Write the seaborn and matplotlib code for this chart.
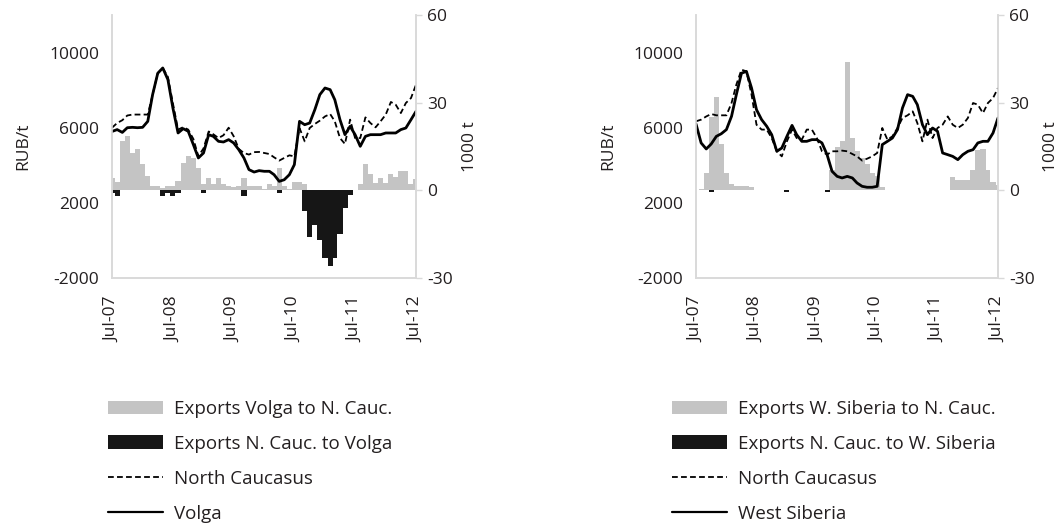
import pandas as pd
import seaborn as sns
import matplotlib.pyplot as plt
from matplotlib.patches import Patch
from matplotlib.lines import Line2D

months = pd.date_range("2007-07-01", "2012-07-01", freq="MS")
xtick_labels = ["Jul-07", "Jul-08", "Jul-09", "Jul-10", "Jul-11", "Jul-12"]

# left panel: Volga vs North Caucasus (RUB/t) and flows (1000 t)
volga = [5800, 5900, 5750, 6000, 6020, 6000, 6020, 6340, 7760, 8900, 9180, 8560, 7050,
         5720, 5950, 5810, 5100, 4390, 4655, 5630, 5540, 5275, 5240, 5365, 5190, 4830,
         4390, 3770, 3640, 3715, 3680, 3680, 3500, 3145, 3230, 3500, 4035, 6340, 6160,
         6250, 6960, 7760, 8114, 8025, 7490, 6430, 5630, 6075, 5630, 5010, 5540, 5630,
         5630, 5630, 5720, 5720, 5720, 5900, 5985, 6430, 6870]
ncauc_a = [6000, 6250, 6400, 6650, 6700, 6700, 6700, 6700, 7760, 8900, 9180, 8700, 7300,
           5900, 6030, 5900, 5400, 4480, 4900, 5800, 5650, 5450, 5600, 6000, 5550, 4870,
           4650, 4570, 4700, 4710, 4655, 4600, 4425, 4250, 4390, 4530, 4475, 5985, 5275,
           5985, 6200, 6375, 6600, 6730, 6340, 5450, 5135, 6430, 5450, 5450, 6550, 6250,
           6020, 6340, 6695, 7370, 7227, 6780, 7315, 7580, 8290]
exp_volga_nc = [4.3, 3, 16.9, 18.6, 12.9, 14, 8.9, 4.9, 1.5, 1.5, 0.9, 1.5, 1.5, 3.2, 9.5,
                11.8, 11.2, 7.8, 2, 4.3, 2, 4.1, 2, 1.5, 1.1, 1.5, 4.3, 1.5, 1.5, 1.5, 0.5,
                2, 1.5, 7.5, 1.5, 0.5, 3, 3, 2, 0, 0, 0, 0, 0, 0, 0, 0, 0, 0, 2, 9, 5.5,
                2.5, 4.3, 2.5, 5.5, 4.5, 6.5, 6.5, 2, 3.8]
exp_nc_volga = [-1, -2, 0, 0, 0, 0, 0, 0, 0, 0, -2, -0.8, -2, -0.8, 0, 0, 0, 0, -1, 0, 0,
                0, 0, 0, 0, 0, -2, 0, 0, 0, 0, 0, 0, -1, 0, 0, 0, 0, -7, -16, -12, -17, -23,
                -26, -23, -15, -6, -1.5, 0, 0, 0, 0, 0, 0, 0, 0, 0, 0, 0, 0, 0]

# right panel: West Siberia vs North Caucasus
wsib = [6200, 5190, 4870, 5135, 5540, 5680, 5900, 6610, 7760, 8900, 9000, 8115, 6960,
        6430, 6075, 5630, 4745, 4920, 5540, 6125, 5630, 5275, 5275, 5365, 5365, 5190,
        4565, 3680, 3410, 3325, 3410, 3325, 3060, 2880, 2830, 2830, 2880, 5100, 5275,
        5450, 5900, 7050, 7760, 7670, 7227, 6160, 5630, 5985, 5810, 4655, 4565, 4475,
        4300, 4565, 4745, 4830, 5190, 5275, 5275, 5720, 6520]
ncauc_b = [6340, 6430, 6600, 6730, 6660, 6660, 6660, 7315, 8290, 9090, 9000, 7760, 6160,
           5900, 5900, 5450, 4745, 4475, 5275, 5900, 5450, 5365, 5900, 5900, 5450, 4745,
           4565, 4745, 4745, 4780, 4745, 4600, 4475, 4250, 4350, 4475, 4655, 5985, 5365,
           5540, 5985, 6520, 6660, 6870, 6250, 5275, 6430, 5450, 5985, 6160, 6600, 6160,
           5985, 6160, 6520, 7315, 7227, 6780, 7315, 7580, 8114]
exp_ws_nc = [0, 0.5, 6, 25, 32, 16, 6, 2, 1.5, 1.5, 1.5, 1, 0, 0, 0, 0, 0, 0, 0, 0, 0, 0,
             0, 0, 0, 0, 0, 7, 15, 17, 44, 18, 13.5, 11, 9, 6, 5, 1, 0, 0, 0, 0, 0, 0, 0,
             0, 0, 0, 0, 0, 0, 4.6, 3.4, 3.4, 3.4, 6.8, 13.7, 14.3, 6.8, 2.9, 1.7]
exp_nc_ws = [0, 0, 0, -0.6, 0, 0, 0, 0, 0, 0, 0, 0, 0, 0, 0, 0, 0, 0, -0.6, 0, 0, 0, 0,
             0, 0, 0, -0.6, 0, 0, 0, 0, 0, 0, 0, 0, 0, 0, 0, 0, 0, 0, 0, 0, 0, 0, 0, 0,
             0, 0, 0, 0, 0, 0, 0, 0, 0, 0, 0, 0, 0, 0]

sns.set_theme(style="white", rc={"axes.edgecolor": "#d9d9d9", "text.color": "#231f20",
                                 "axes.labelcolor": "#231f20", "xtick.color": "#231f20",
                                 "ytick.color": "#231f20"})
plt.rcParams["font.family"] = ["Open Sans", "DejaVu Sans"]
plt.rcParams["axes.unicode_minus"] = False

GRAY = "#c4c4c4"
BLACK = "#161616"
DASH = (0, (3.2, 1.8))


def draw_panel(fig, rect, price_nc, price_reg, exp_in, exp_out, labels, leg_xy):
    ax = fig.add_axes(rect)
    ax2 = ax.twinx()
    ax.set_zorder(ax2.get_zorder() + 1)
    ax.patch.set_visible(False)

    ax2.bar(months, exp_in, width=31, color=GRAY, linewidth=0)
    ax2.bar(months, exp_out, width=31, color=BLACK, linewidth=0)

    sns.lineplot(x=months, y=price_nc, ax=ax, color="black", linewidth=1.3, linestyle=DASH)
    sns.lineplot(x=months, y=price_reg, ax=ax, color="black", linewidth=2.0)

    ax.set_xlim(months[0], months[-1])
    ax.set_ylim(-2000, 12000)
    ax.set_yticks([-2000, 2000, 6000, 10000])
    ax2.set_ylim(-30, 60)
    ax2.set_yticks([-30, 0, 30, 60])
    ax.set_xticks(months[::12])
    ax.set_xticklabels(xtick_labels, rotation=90)
    ax.set_xlabel("")

    ax.tick_params(axis="y", length=0, pad=9, labelsize=12.5)
    ax.tick_params(axis="x", length=0, pad=13, labelsize=12.5)
    ax2.tick_params(axis="y", length=4, width=1, color="#d9d9d9", pad=4, labelsize=12.5)

    for a in (ax, ax2):
        a.spines["top"].set_visible(False)
        for s in ("left", "bottom", "right"):
            a.spines[s].set_color("#d9d9d9")
            a.spines[s].set_linewidth(1.2)

    ax.set_ylabel("RUB/t", fontsize=12.5)
    ax2.set_ylabel("1000 t", fontsize=12.5)
    ax.yaxis.set_label_coords(-0.265, 0.5)
    ax2.yaxis.set_label_coords(1.15, 0.5)

    handles = [Patch(facecolor=GRAY, edgecolor="none"),
               Patch(facecolor=BLACK, edgecolor="none"),
               Line2D([], [], color="black", linewidth=1.3, linestyle=DASH),
               Line2D([], [], color="black", linewidth=1.6)]
    fig.legend(handles, labels, loc="upper left", bbox_to_anchor=leg_xy,
               frameon=False, fontsize=13.5, handlelength=2.95, handleheight=0.75,
               handletextpad=0.55, labelspacing=0.9, borderpad=0, borderaxespad=0)
    return ax


fig = plt.figure(figsize=(10.62, 5.24), dpi=100)
W, H = 1062, 524

draw_panel(fig, [112 / W, 1 - 278 / H, 304 / W, 263 / H], ncauc_a, volga,
           exp_volga_nc, exp_nc_volga,
           ["Exports Volga to N. Cauc.", "Exports N. Cauc. to Volga",
            "North Caucasus", "Volga"],
           (108 / W, 1 - 400 / H))
draw_panel(fig, [696 / W, 1 - 278 / H, 302 / W, 263 / H], ncauc_b, wsib,
           exp_ws_nc, exp_nc_ws,
           ["Exports W. Siberia to N. Cauc.", "Exports N. Cauc. to W. Siberia",
            "North Caucasus", "West Siberia"],
           (672 / W, 1 - 400 / H))

fig.savefig("out.png", dpi=100)
